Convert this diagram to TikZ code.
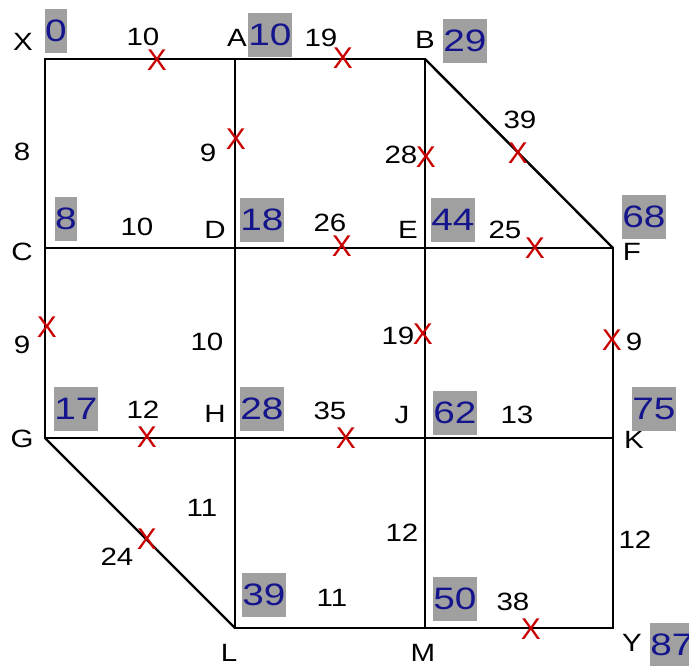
\documentclass[tikz,border=0pt]{standalone}
\usepackage{fontspec}
\setmainfont{Liberation Sans}
\newfontfamily\labfont{Liberation Sans}[FakeStretch=1.18]
\newfontfamily\numfont{Liberation Sans}[FakeStretch=1.25]
\newfontfamily\crossfont{Liberation Sans}
\definecolor{numblue}{RGB}{20,20,140}
\definecolor{boxgray}{RGB}{160,160,160}
\definecolor{markred}{RGB}{200,0,0}
\tikzset{
  lab/.style={font=\labfont\fontsize{25}{25}\selectfont, inner sep=0pt},
  num/.style={font=\numfont\fontsize{31}{31}\selectfont, text=numblue, fill=boxgray, inner xsep=0.5pt, inner ysep=0pt, minimum height=44pt},
  xmark/.style={font=\crossfont\fontsize{30}{30}\selectfont, text=markred, inner sep=0pt},
  road/.style={line width=2.4pt, line cap=round, draw=black}
}
\begin{document}
\begin{tikzpicture}[x=1pt,y=-1pt]
\useasboundingbox (0,0) rectangle (689,665);
% junctions
\coordinate (X) at (45,59);
\coordinate (A) at (235,59);
\coordinate (B) at (425,59);
\coordinate (C) at (45,248);
\coordinate (D) at (235,248);
\coordinate (E) at (425,248);
\coordinate (F) at (613,248);
\coordinate (G) at (45,438);
\coordinate (H) at (235,438);
\coordinate (J) at (425,438);
\coordinate (K) at (613,438);
\coordinate (L) at (235,628);
\coordinate (M) at (425,628);
\coordinate (Y) at (613,628);
% roads
\draw[road] (X) -- (A);
\draw[road] (A) -- (B);
\draw[road] (X) -- (C);
\draw[road] (A) -- (D);
\draw[road] (B) -- (E);
\draw[road] (B) -- (F);
\draw[road] (C) -- (D);
\draw[road] (D) -- (E);
\draw[road] (E) -- (F);
\draw[road] (C) -- (G);
\draw[road] (D) -- (H);
\draw[road] (E) -- (J);
\draw[road] (F) -- (K);
\draw[road] (G) -- (H);
\draw[road] (H) -- (J);
\draw[road] (J) -- (K);
\draw[road] (G) -- (L);
\draw[road] (H) -- (L);
\draw[road] (J) -- (M);
\draw[road] (K) -- (Y);
\draw[road] (L) -- (M);
\draw[road] (M) -- (Y);
% junction letters
\node[lab] (tX) at (23,42) {X};
\node[lab] (tA) at (237,38) {A};
\node[lab] (tB) at (425,40) {B};
\node[lab] (tC) at (22,252) {C};
\node[lab] (tD) at (215,230) {D};
\node[lab] (tE) at (408,230) {E};
\node[lab] (tF) at (632,252) {F};
\node[lab] (tG) at (22,439) {G};
\node[lab] (tH) at (215,414) {H};
\node[lab] (tJ) at (402,415) {J};
\node[lab] (tK) at (634,440) {K};
\node[lab] (tL) at (229,653) {L};
\node[lab] (tM) at (423,653) {M};
\node[lab] (tY) at (632,643) {Y};
% weights
\node[lab] (w1) at (143,37) {10};
\node[lab] (w2) at (321,38) {19};
\node[lab] (w3) at (22,152) {8};
\node[lab] (w4) at (208,153) {9};
\node[lab] (w5) at (401,155) {28};
\node[lab] (w6) at (520,120) {39};
\node[lab] (w7) at (137,227) {10};
\node[lab] (w8) at (330,223) {26};
\node[lab] (w9) at (505,230) {25};
\node[lab] (w10) at (22,345) {9};
\node[lab] (w11) at (207,342) {10};
\node[lab] (w12) at (398,336) {19};
\node[lab] (w13) at (634,342) {9};
\node[lab] (w14) at (143,410) {12};
\node[lab] (w15) at (330,411) {35};
\node[lab] (w16) at (517,415) {13};
\node[lab] (w17) at (202,508) {11};
\node[lab] (w18) at (117,557) {24};
\node[lab] (w19) at (402,533) {12};
\node[lab] (w20) at (635,540) {12};
\node[lab] (w21) at (332,598) {11};
\node[lab] (w22) at (513,602) {38};
% distance boxes
\node[num] (d0) at (56,31) {0};
\node[num] (d1) at (270,35) {10};
\node[num] (d2) at (465,41) {29};
\node[num] (d3) at (66,219) {8};
\node[num] (d4) at (262,219.5) {18};
\node[num] (d5) at (453,220) {44};
\node[num] (d6) at (644,217) {68};
\node[num] (d7) at (76,409) {17};
\node[num] (d8) at (262,409) {28};
\node[num] (d9) at (455,413) {62};
\node[num] (d10) at (654,409) {75};
\node[num] (d11) at (264,595) {39};
\node[num] (d12) at (455,599) {50};
\node[num] (d13) at (672,645) {87};
% crosses
\node[xmark] (m1) at (157,60) {X};
\node[xmark] (m2) at (343,58) {X};
\node[xmark] (m3) at (236,139) {X};
\node[xmark] (m4) at (426,157) {X};
\node[xmark] (m5) at (518,153) {X};
\node[xmark] (m6) at (342,246) {X};
\node[xmark] (m7) at (535,248) {X};
\node[xmark] (m8) at (47,327) {X};
\node[xmark] (m9) at (423,334) {X};
\node[xmark] (m10) at (612,340) {X};
\node[xmark] (m11) at (147,437) {X};
\node[xmark] (m12) at (346,438) {X};
\node[xmark] (m13) at (147,539) {X};
\node[xmark] (m14) at (531,629) {X};
\end{tikzpicture}
\end{document}
